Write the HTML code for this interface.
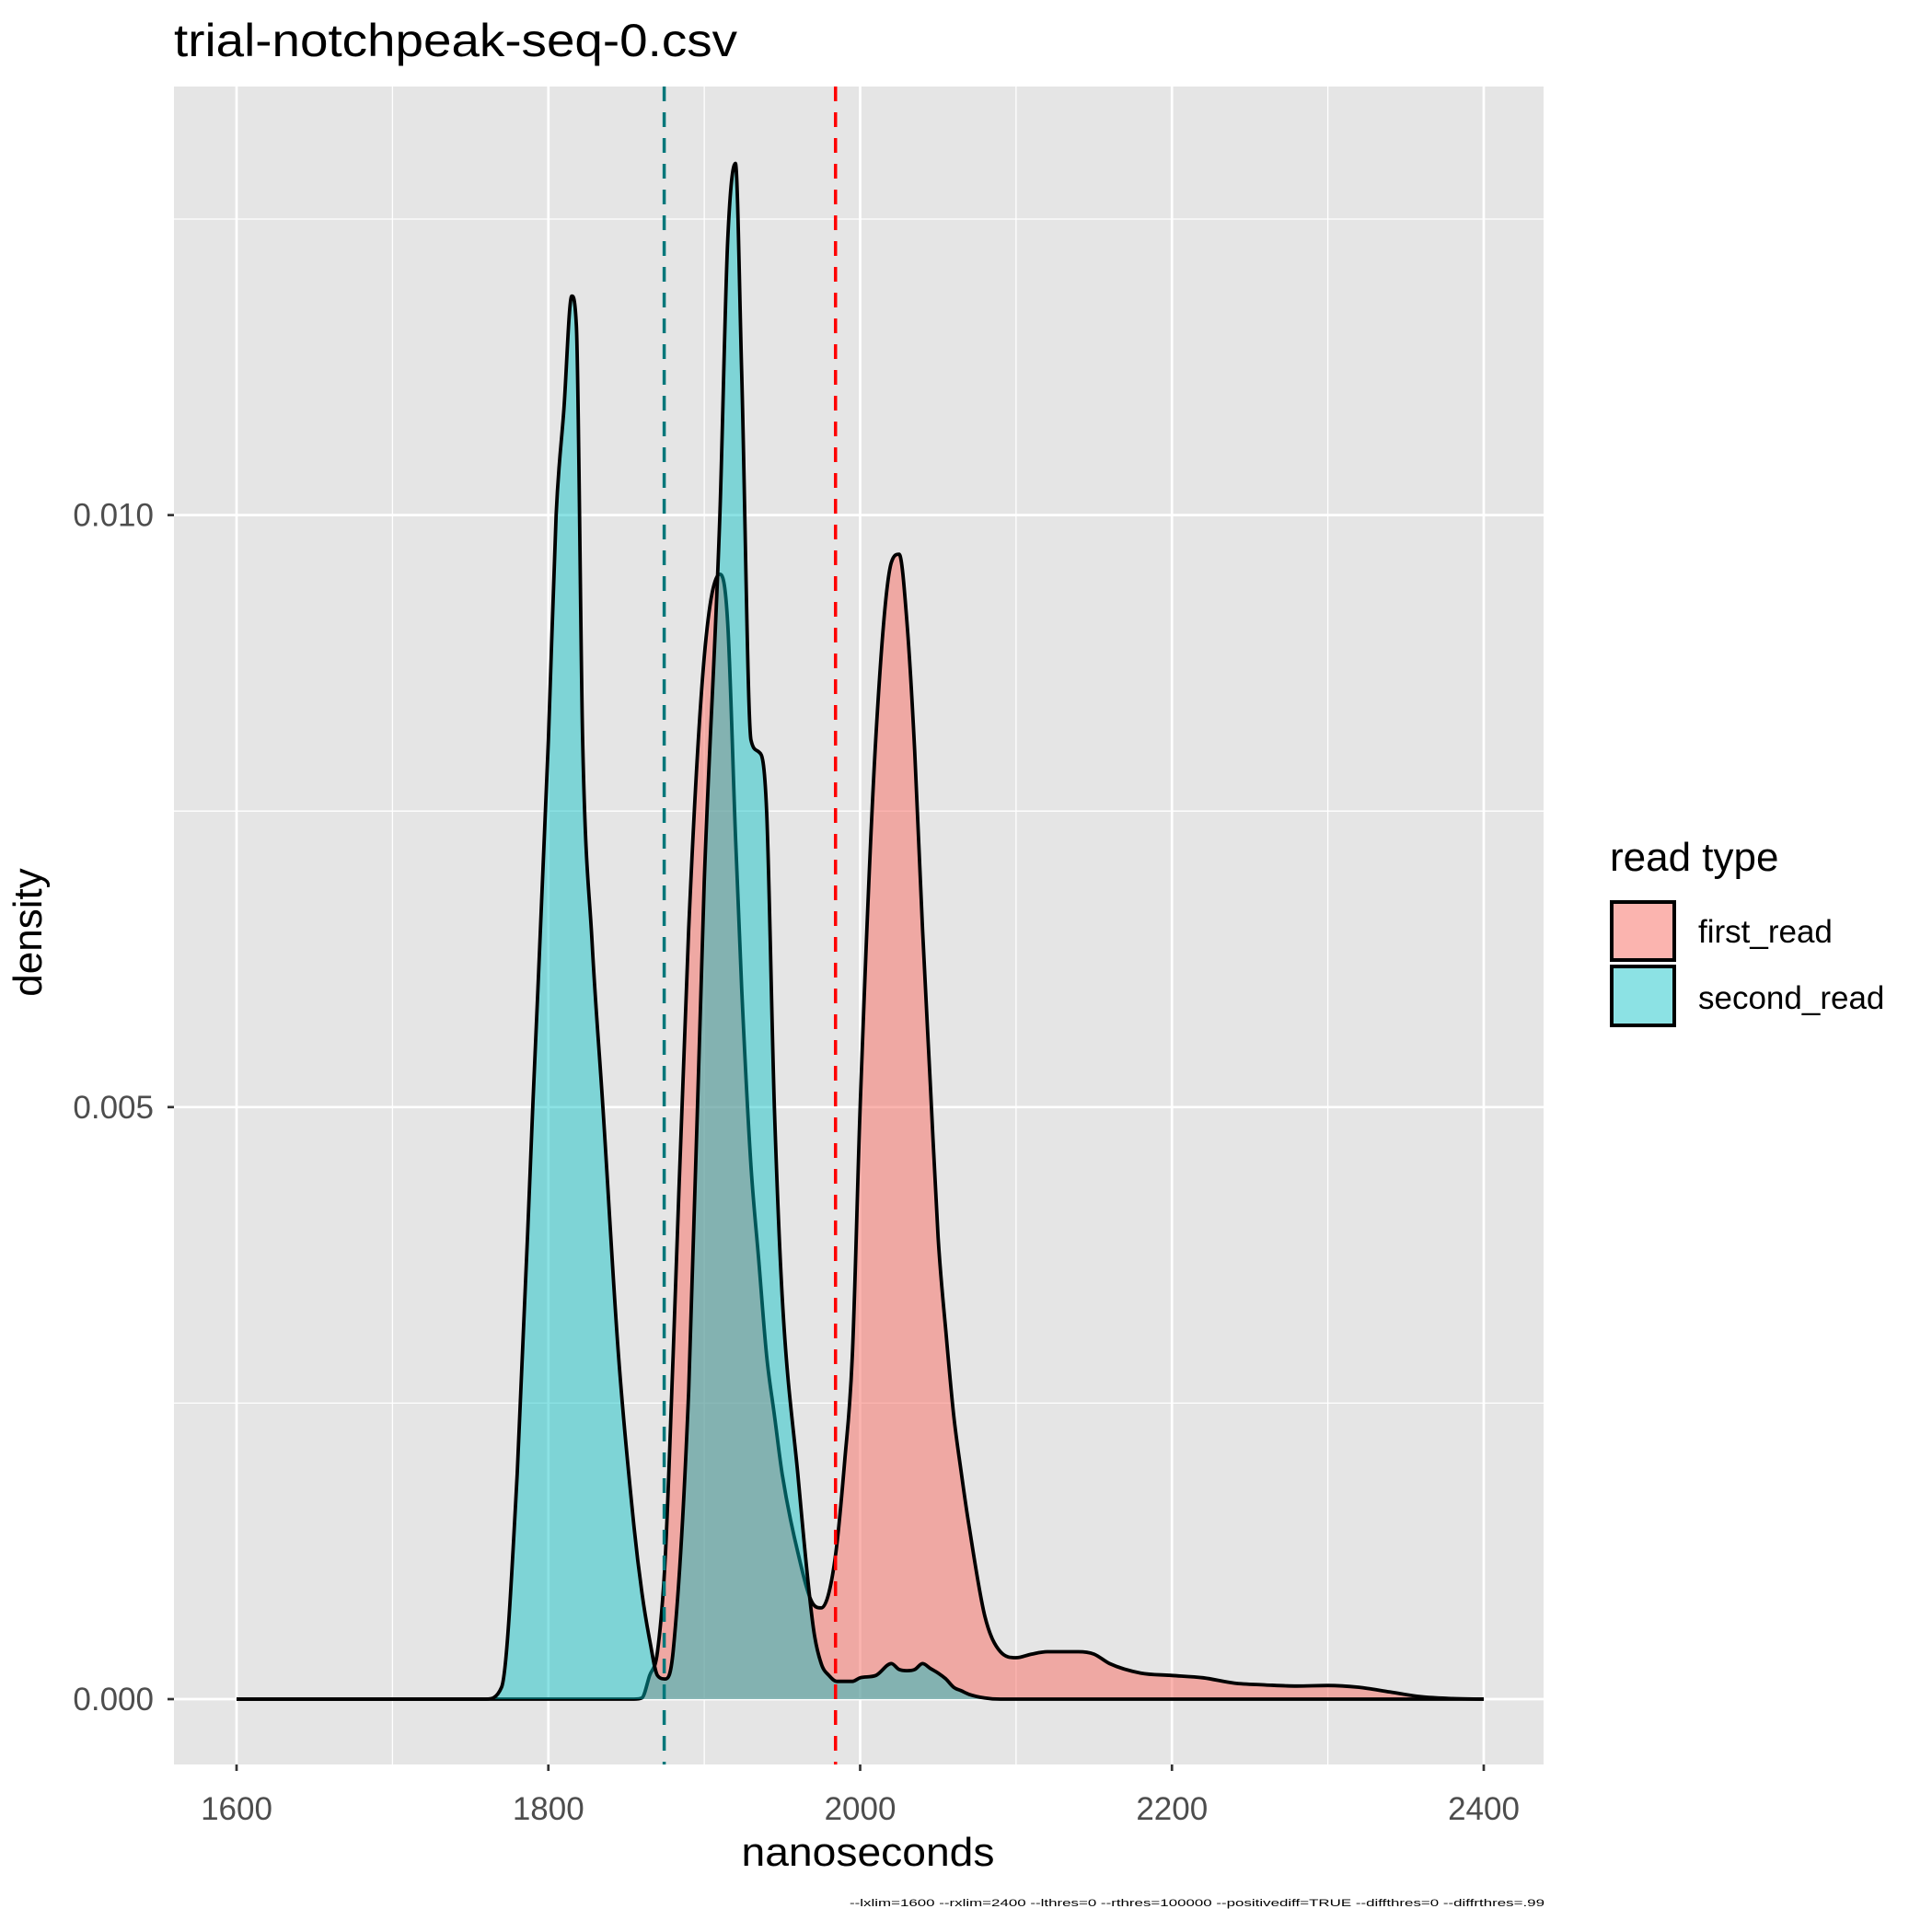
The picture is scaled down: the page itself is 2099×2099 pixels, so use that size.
<!DOCTYPE html>
<html><head><meta charset="utf-8"><style>
html,body{margin:0;padding:0;background:#fff}
svg{display:block;font-family:"Liberation Sans",Arial,sans-serif}
</style></head><body>
<svg id="chart" width="2099" height="2099" viewBox="0 0 2099 2099">
<rect width="2099" height="2099" fill="#fff"/>
<text x="189" y="61" font-size="50" textLength="612" lengthAdjust="spacingAndGlyphs">trial-notchpeak-seq-0.csv</text>
<rect x="189" y="94" width="1488" height="1823" fill="#e5e5e5"/>
<g id="grid"></g>
<g id="areas"></g>
<g id="vlines"></g>
<g id="axes"></g>
<text x="943" y="2027" font-size="44" text-anchor="middle" textLength="275" lengthAdjust="spacingAndGlyphs">nanoseconds</text>
<text transform="translate(45,1013) rotate(-90)" font-size="44" text-anchor="middle">density</text>
<text x="1678" y="2071" font-size="11" text-anchor="end" textLength="755" lengthAdjust="spacingAndGlyphs">--lxlim=1600 --rxlim=2400 --lthres=0 --rthres=100000 --positivediff=TRUE --diffthres=0 --diffrthres=.99</text>
<g>
<text x="1749" y="946" font-size="44">read type</text>
<rect x="1751" y="980" width="68" height="63" fill="#F8766D" fill-opacity="0.55" stroke="#000" stroke-width="4"/>
<text x="1845" y="1024" font-size="35">first_read</text>
<rect x="1751" y="1050" width="68" height="64" fill="#00BFC4" fill-opacity="0.45" stroke="#000" stroke-width="4"/>
<text x="1845" y="1096" font-size="35">second_read</text>
</g>
</svg>
<script>
const xs = [1600,1760,1770,1780,1790,1800,1805,1810,1815,1818,1822,1828,1835,1845,1855,1860,1865,1870,1875,1880,1890,1900,1910,1915,1920,1924,1930,1935,1940,1945,1950,1960,1970,1975,1980,1985,1990,1995,2000,2010,2020,2025,2030,2035,2040,2045,2050,2055,2060,2065,2070,2080,2090,2100,2110,2120,2140,2150,2160,2180,2200,2220,2240,2260,2280,2300,2320,2340,2360,2380,2400];
const firstRead = [0,0,0,0,0,0,0,0,0,0,0,0,0,0,0,0.00001,0.0002,0.0004,0.0012,0.0029,0.0065,0.0088,0.0095,0.0091,0.0073,0.0060,0.0045,0.0037,0.0029,0.0024,0.0019,0.00124,0.0008,0.00077,0.0009,0.0013,0.0020,0.0029,0.0050,0.0081,0.0096,0.00967,0.0091,0.0080,0.0065,0.0052,0.0039,0.0031,0.0024,0.0019,0.00145,0.0007,0.0004,0.00035,0.00038,0.0004,0.0004,0.00038,0.0003,0.00022,0.0002,0.00018,0.000135,0.00012,0.00011,0.000115,0.0001,0.00006,0.00002,0.000005,0];
const secondRead = [0,0,0.0001,0.0019,0.0050,0.0081,0.0100,0.0109,0.01185,0.0116,0.0081,0.0064,0.0050,0.0029,0.00145,0.0009,0.0005,0.0002,0.00017,0.0004,0.0026,0.0069,0.0100,0.0123,0.01297,0.0112,0.0081,0.0080,0.0075,0.0050,0.0034,0.0019,0.0006,0.0003,0.0002,0.00015,0.00015,0.00015,0.00018,0.0002,0.0003,0.00025,0.00024,0.00025,0.0003,0.00026,0.00022,0.00017,0.0001,0.00007,0.00004,0.00001,0,0,0,0,0,0,0,0,0,0,0,0,0,0,0,0,0,0,0];
const xTicks = [1600,1800,2000,2200,2400];
const xTickLabels = ["1600","1800","2000","2200","2400"];
const xMinor = [1700,1900,2100,2300];
const yTicks = [0,0.005,0.010];
const yTickLabels = ["0.000","0.005","0.010"];
const yMinor = [0.0025,0.0075,0.0125];
const vlineTeal = 1874.3;
const vlineRed = 1984.2;

const NS='http://www.w3.org/2000/svg';
const X = v => 257 + (v-1600)*(1612-257)/800;
const Y = v => 1846 - v*(1846-559.6)/0.010;
function mk(tag, attrs, parent){const e=document.createElementNS(NS,tag);for(const k in attrs)e.setAttribute(k,attrs[k]);parent.appendChild(e);return e;}
const grid=document.getElementById('grid'), areas=document.getElementById('areas'), vl=document.getElementById('vlines'), axes=document.getElementById('axes');
xMinor.forEach(v=>{const l=mk('line',{x1:X(v),x2:X(v),y1:94,y2:1917,stroke:'#fff','stroke-width':1.3},grid);

});
yMinor.forEach(v=>{const l=mk('line',{x1:189,x2:1677,y1:Y(v),y2:Y(v),stroke:'#fff','stroke-width':1.3},grid);

});
xTicks.forEach((v,i)=>{const l=mk('line',{x1:X(v),x2:X(v),y1:94,y2:1917,stroke:'#fff','stroke-width':2.7},grid);


const t=mk('line',{x1:X(v),x2:X(v),y1:1917,y2:1924,stroke:'#333','stroke-width':2.7},axes);


const tx=mk('text',{x:X(v),y:1977,'font-size':35,'text-anchor':'middle',fill:'#4d4d4d'},axes);tx.textContent=xTickLabels[i];

});
yTicks.forEach((v,i)=>{const l=mk('line',{x1:189,x2:1677,y1:Y(v),y2:Y(v),stroke:'#fff','stroke-width':2.7},grid);


const t=mk('line',{x1:182,x2:189,y1:Y(v),y2:Y(v),stroke:'#333','stroke-width':2.7},axes);


const tx=mk('text',{x:167,y:Y(v)+12,'font-size':35,'text-anchor':'end',fill:'#4d4d4d'},axes);tx.textContent=yTickLabels[i];

});
// monotone cubic (Fritsch-Carlson) to avoid overshoot
function smooth(vals){
  const px=xs.map(X), py=vals.map(Y), n=px.length;
  const d=[], m=new Array(n);
  for(let i=0;i<n-1;i++) d.push((py[i+1]-py[i])/(px[i+1]-px[i]));
  m[0]=d[0]; m[n-1]=d[n-2];
  for(let i=1;i<n-1;i++){ m[i]=(d[i-1]*d[i]<=0)?0:(d[i-1]+d[i])/2; }
  for(let i=0;i<n-1;i++){
    if(d[i]===0){m[i]=0;m[i+1]=0;continue;}
    const a=m[i]/d[i], b=m[i+1]/d[i], s=a*a+b*b;
    if(s>9){const t=3/Math.sqrt(s);m[i]=t*a*d[i];m[i+1]=t*b*d[i];}
  }
  let p='M'+px[0].toFixed(1)+','+py[0].toFixed(1);
  for(let i=0;i<n-1;i++){
    const h=(px[i+1]-px[i])/3;
    p+=' C'+(px[i]+h).toFixed(1)+','+(py[i]+m[i]*h).toFixed(1)+' '+(px[i+1]-h).toFixed(1)+','+(py[i+1]-m[i+1]*h).toFixed(1)+' '+px[i+1].toFixed(1)+','+py[i+1].toFixed(1);
  }
  return p;
}
function areaPath(vals){return smooth(vals)+' L'+X(xs[xs.length-1])+','+Y(0)+' L'+X(xs[0])+','+Y(0)+' Z';}
const a1=mk('path',{d:areaPath(firstRead),fill:'#F8766D','fill-opacity':0.55,stroke:'none'},areas);


const l1=mk('path',{d:smooth(firstRead),fill:'none',stroke:'#000','stroke-width':3.8,'stroke-linejoin':'round'},areas);


const a2=mk('path',{d:areaPath(secondRead),fill:'#00BFC4','fill-opacity':0.45,stroke:'none'},areas);


const l2=mk('path',{d:smooth(secondRead),fill:'none',stroke:'#000','stroke-width':3.8,'stroke-linejoin':'round'},areas);


const v1=mk('line',{x1:X(vlineTeal),x2:X(vlineTeal),y1:94,y2:1917,stroke:'#00777a','stroke-width':3.5,'stroke-dasharray':'16 12'},vl);


const v2=mk('line',{x1:X(vlineRed),x2:X(vlineRed),y1:94,y2:1917,stroke:'#ff0000','stroke-width':3.5,'stroke-dasharray':'16 12'},vl);


</script>
</body></html>
